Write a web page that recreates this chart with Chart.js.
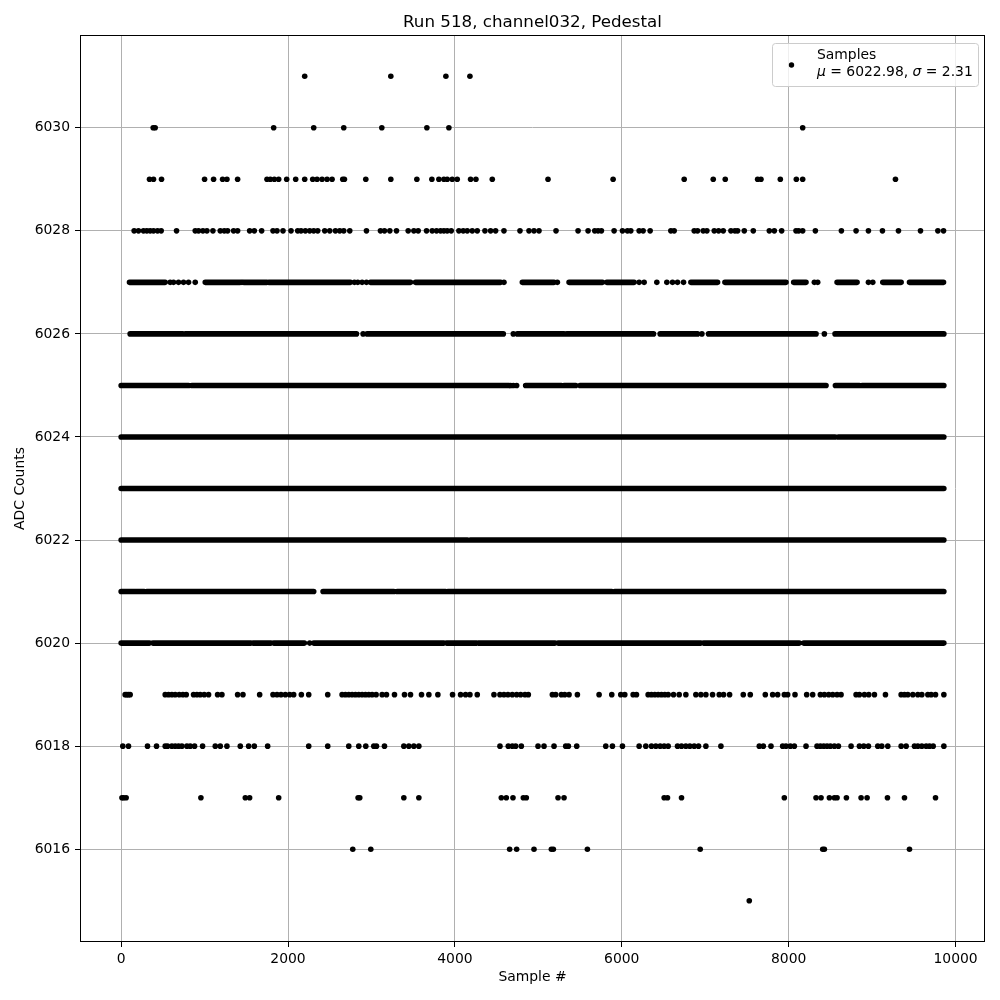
<!DOCTYPE html>
<html>
<head>
<meta charset="utf-8">
<script src="https://cdn.jsdelivr.net/npm/chart.js@4/dist/chart.umd.min.js"></script>
<style>
  html, body { margin: 0; padding: 0; background: #fff; }
  #wrap { width: 1000px; height: 1000px; }
</style>
</head>
<body>
<div id="wrap"><canvas id="pedestalChart" width="1000" height="1000"></canvas></div>
<script>
'use strict';

// --- data (sample numbers per ADC level) ---
const xTicks = [0, 2000, 4000, 6000, 8000, 10000];
const yTicks = [6016, 6018, 6020, 6022, 6024, 6026, 6028, 6030];

// sparse levels: single samples
const pts6031 = [2200, 3232, 3892, 4180];
const pts6030 = [384, 408, 1828, 2308, 2668, 3124, 3664, 3928, 8168];
const pts6029 = [340, 388, 484, 1000, 1108, 1216, 1268, 1396, 1748, 1788, 1836, 1888, 1984, 2092, 2200,
  2296, 2348, 2408, 2468, 2528, 2656, 2676, 2932, 3232, 3544, 3724, 3808, 3868, 3908, 3968, 4028, 4188,
  4252, 4448, 5116, 5896, 6748, 7096, 7240, 7628, 7668, 7900, 8092, 8168, 9280];
const pts6028 = [156, 208, 268, 308, 348, 388, 436, 480, 664, 888, 928, 980, 1028, 1100, 1188, 1236, 1276,
  1348, 1396, 1540, 1596, 1684, 1820, 1868, 1940, 2036, 2116, 2156, 2208, 2260, 2308, 2356, 2440, 2500,
  2568, 2620, 2668, 2740, 2940, 3108, 3156, 3220, 3300, 3440, 3508, 3560, 3660, 3728, 3780, 3828, 3868,
  3908, 3956, 4048, 4100, 4148, 4208, 4268, 4360, 4428, 4488, 4588, 4780, 4888, 4948, 5008, 5212, 5476,
  5596, 5676, 5716, 5756, 5908, 6008, 6068, 6108, 6208, 6256, 6340, 6588, 6628, 6868, 6908, 6976, 7020,
  7108, 7160, 7216, 7308, 7356, 7388, 7468, 7576, 7768, 7828, 7916, 8088, 8120, 8168, 8320, 8632, 8808,
  8956, 9124, 9316, 9580, 9788, 9856];
const pts6027 = [588, 628, 688, 748, 808, 888, 1448, 2796, 2836, 2888, 2940, 4588, 5228, 6208, 6268, 6420,
  6540, 6608, 6668, 6740, 8308, 8348, 8956, 9008];
const pts6026 = [2900, 4700, 6960, 8428];
const pts6025 = [4668, 4700, 4740];
const pts6020 = [2260];
const pts6019 = [48, 68, 88, 108, 528, 568, 608, 648, 696, 740, 780, 868, 908, 948, 996, 1048, 1156, 1208,
  1396, 1460, 1660, 1820, 1868, 1916, 1968, 2020, 2068, 2160, 2248, 2476, 2648, 2688, 2728, 2768, 2808,
  2848, 2888, 2928, 2968, 3008, 3056, 3128, 3180, 3276, 3396, 3468, 3600, 3688, 3796, 3972, 4068, 4128,
  4180, 4268, 4468, 4540, 4588, 4636, 4688, 4740, 4788, 4840, 4880, 5168, 5208, 5276, 5316, 5368, 5468,
  5728, 5880, 5988, 6036, 6136, 6176, 6316, 6356, 6396, 6436, 6476, 6516, 6556, 6620, 6688, 6768, 6888,
  6948, 7008, 7088, 7168, 7220, 7292, 7456, 7540, 7720, 7808, 7868, 7948, 7988, 8076, 8216, 8288, 8380,
  8428, 8480, 8528, 8580, 8628, 8808, 8848, 8908, 8960, 9028, 9160, 9348, 9388, 9428, 9488, 9548, 9596,
  9668, 9708, 9760, 9860];
const pts6018 = [20, 88, 316, 424, 528, 556, 608, 648, 688, 728, 788, 828, 880, 976, 1128, 1188, 1268, 1428,
  1528, 1596, 1756, 2248, 2476, 2728, 2848, 2932, 3028, 3060, 3156, 3388, 3448, 3508, 3568, 4540, 4640,
  4688, 4728, 4796, 4996, 5068, 5188, 5328, 5360, 5460, 5808, 5888, 6008, 6208, 6288, 6356, 6408, 6460,
  6508, 6556, 6668, 6716, 6768, 6816, 6868, 6920, 7008, 7188, 7648, 7696, 7788, 7928, 7968, 8020, 8068,
  8208, 8340, 8380, 8420, 8460, 8500, 8548, 8596, 8748, 8848, 8900, 8956, 9068, 9116, 9188, 9348, 9408,
  9508, 9548, 9596, 9648, 9688, 9732, 9860];
const pts6017 = [10, 30, 60, 956, 1488, 1540, 1888, 2840, 2860, 3388, 3568, 4556, 4616, 4696, 4820, 4856,
  5236, 5308, 6508, 6548, 6716, 7948, 8328, 8388, 8488, 8548, 8580, 8692, 8868, 8940, 9184, 9388, 9760];
const pts6016 = [2776, 2992, 4656, 4740, 4948, 5156, 5180, 5588, 6940, 8408, 8428, 9448];
const pts6015 = [7528];

// dense levels: runs of back-to-back samples [first, last]
const runs6027 = [[100, 528], [1008, 1428], [1468, 1748], [1768, 2748], [2988, 3468], [3528, 4548],
  [4808, 5188], [5368, 5768], [5820, 6148], [6828, 7148], [7236, 7968], [8060, 8208], [8580, 8820],
  [9128, 9348], [9448, 9856]];
const runs6026 = [[108, 740], [768, 2820], [2948, 4580], [4748, 5308], [5340, 6380], [6460, 6908],
  [7040, 8328], [8556, 9860]];
const runs6025 = [[0, 808], [848, 4648], [4848, 5276], [5308, 5448], [5500, 8448], [8560, 8848], [8880, 9860]];
const runs6024 = [[0, 8556], [8596, 9860]];
const runs6023 = [[0, 9860]];
const runs6022 = [[0, 4150], [4185, 9860]];
const runs6021 = [[0, 276], [308, 2308], [2420, 3268], [3308, 3888], [3916, 5880], [5916, 9860]];
const runs6020 = [[0, 340], [380, 1556], [1580, 1796], [1828, 2196], [2308, 3868], [3900, 4260],
  [4280, 5200], [5236, 6948], [6980, 8128], [8180, 9860]];

const FONT = "'DejaVu Sans', sans-serif";

const pointSets = [[6031, pts6031], [6030, pts6030], [6029, pts6029], [6028, pts6028], [6027, pts6027],
  [6026, pts6026], [6025, pts6025], [6020, pts6020], [6019, pts6019], [6018, pts6018], [6017, pts6017],
  [6016, pts6016], [6015, pts6015]];
const runSets = [[6027, runs6027], [6026, runs6026], [6025, runs6025], [6024, runs6024], [6023, runs6023],
  [6022, runs6022], [6021, runs6021], [6020, runs6020]];

const sampleData = [];
pointSets.forEach(([level, xs]) => xs.forEach(x => sampleData.push({x: x, y: level})));

const runData = [];
runSets.forEach(([level, runs]) => runs.forEach(([a, b]) => {
    runData.push({x: a, y: level}, {x: b, y: level}, {x: b, y: null});
}));

// title, full frame and the two-line legend box
const decorPlugin = {
    id: 'decor',
    afterDraw(chart) {
        const {ctx, chartArea: a} = chart;
        ctx.save();
        ctx.strokeStyle = '#000';
        ctx.lineWidth = 1;
        ctx.strokeRect(Math.round(a.left) + 0.5, Math.round(a.top) + 0.5,
            Math.round(a.right - a.left) - 1, Math.round(a.bottom - a.top) - 1);

        ctx.fillStyle = '#000';
        ctx.font = '16.7px ' + FONT;
        ctx.textAlign = 'center';
        ctx.textBaseline = 'alphabetic';
        ctx.fillText('Run 518, channel032, Pedestal', (a.left + a.right) / 2, 27);

        // legend
        const bx = 772, by = 43, bw = 206, bh = 43;
        ctx.beginPath();
        ctx.roundRect(bx + 0.5, by + 0.5, bw, bh, 3);
        ctx.fillStyle = 'rgba(255,255,255,0.8)';
        ctx.fill();
        ctx.strokeStyle = '#cccccc';
        ctx.stroke();

        ctx.fillStyle = '#000';
        ctx.beginPath();
        ctx.arc(791.5, 65, 2.7, 0, Math.PI * 2);
        ctx.fill();

        ctx.textAlign = 'left';
        ctx.font = '13.9px ' + FONT;
        ctx.fillText('Samples', 817, 59);
        const parts = [['\u03bc', true], [' = 6022.98, ', false], ['\u03c3', true], [' = 2.31', false]];
        let tx = 817;
        parts.forEach(([t, it]) => {
            ctx.font = (it ? 'italic ' : '') + '13.9px ' + FONT;
            ctx.fillText(t, tx, 76);
            tx += ctx.measureText(t).width;
        });
        ctx.restore();
    }
};

const axisFont = {family: FONT, size: 13.9};

new Chart(document.getElementById('pedestalChart'), {
    type: 'scatter',
    data: {
        datasets: [
            {
                label: 'runs',
                data: runData,
                showLine: true,
                spanGaps: false,
                borderColor: '#000',
                borderWidth: 5.6,
                borderCapStyle: 'round',
                pointRadius: 0,
                pointHoverRadius: 0
            },
            {
                label: 'Samples',
                data: sampleData,
                backgroundColor: '#000',
                borderWidth: 0,
                pointRadius: 2.8,
                pointHoverRadius: 2.8
            }
        ]
    },
    options: {
        responsive: false,
        animation: false,
        devicePixelRatio: 1,
        layout: { padding: { top: 35, right: 15, left: 0, bottom: 0 } },
        plugins: { legend: { display: false }, title: { display: false }, tooltip: { enabled: false } },
        scales: {
            x: {
                type: 'linear',
                min: -493, max: 10353,
                afterBuildTicks: s => { s.ticks = xTicks.map(v => ({value: v})); },
                afterFit: s => { s.height = 58; },
                grid: { color: '#b0b0b0', lineWidth: 1, tickColor: '#000', tickLength: 5 },
                border: { display: false },
                ticks: { color: '#000', font: axisFont, padding: 4, maxRotation: 0, callback: v => String(v) },
                title: { display: true, text: 'Sample #', color: '#000', font: axisFont, padding: { top: 0, bottom: 14 } }
            },
            y: {
                type: 'linear',
                min: 6014.2, max: 6031.8,
                afterBuildTicks: s => { s.ticks = yTicks.map(v => ({value: v})); },
                afterFit: s => { s.width = 80; },
                grid: { color: '#b0b0b0', lineWidth: 1, tickColor: '#000', tickLength: 5 },
                border: { display: false },
                ticks: { color: '#000', font: axisFont, padding: 5, callback: v => String(v) },
                title: { display: true, text: 'ADC Counts', color: '#000', font: axisFont, padding: { top: 12, bottom: 0 } }
            }
        }
    },
    plugins: [decorPlugin]
});
</script>
</body>
</html>
